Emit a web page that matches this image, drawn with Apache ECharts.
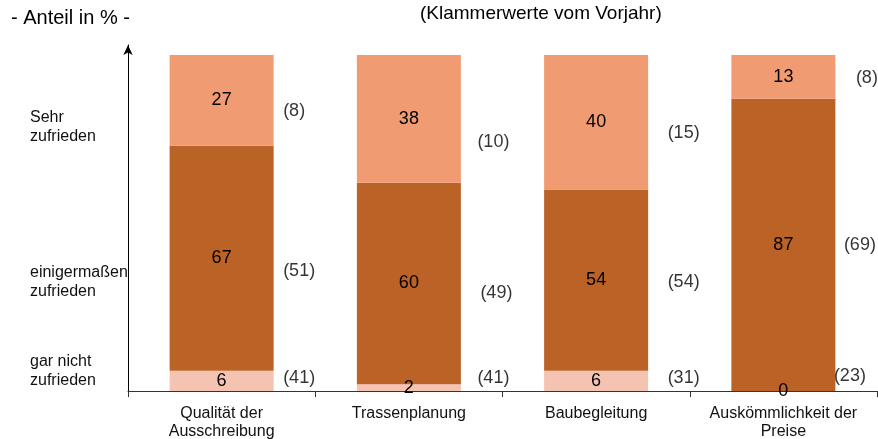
<!DOCTYPE html>
<html>
<head>
<meta charset="utf-8">
<script src="https://cdn.jsdelivr.net/npm/echarts@6/dist/echarts.min.js"></script>
<style>html,body{margin:0;padding:0;background:#fff}#c{width:878px;height:439px}</style>
</head>
<body>
<div id="c"></div>
<script>
// Data
var categories = ['Qualität der\nAusschreibung', 'Trassenplanung', 'Baubegleitung', 'Auskömmlichkeit der\nPreise'];
var garNicht = [6, 2, 6, 0];
var einigermassen = [67, 60, 54, 87];
var sehr = [27, 38, 40, 13];
var prevGarNicht = [41, 41, 31, 23];
var prevEinigermassen = [51, 49, 54, 69];
var prevSehr = [8, 10, 15, 8];
var levelLabels = ['Sehr\nzufrieden', 'einigermaßen\nzufrieden', 'gar nicht\nzufrieden'];

// Style: label nudges [gap right of bar, vertical px]
var offSehr = [[9, 11], [16, 23], [19, 11], [20, 1]];
var offEinig = [[9, 13], [19, 10], [19, 2], [8, 0]];
var offGar = [[9, -3], [16, -10], [19, -3], [-2, -15]];

var FONT = 'Liberation Sans, Arial, sans-serif';
var HALF_BAR = 52;

function mids(level) {
  return categories.map(function (c, i) {
    if (level === 0) return garNicht[i] / 2;
    if (level === 1) return garNicht[i] + einigermassen[i] / 2;
    return garNicht[i] + einigermassen[i] + sehr[i] / 2;
  });
}

function barSeries(name, data, color) {
  return {
    name: name, type: 'bar', stack: 's', data: data, barWidth: 104,
    itemStyle: { color: color },
    label: { show: true, position: 'inside', color: '#000', fontSize: 18, fontFamily: FONT, formatter: '{c}' },
    silent: true
  };
}

function prevSeries(midVals, prevVals, offs) {
  return {
    type: 'scatter', symbolSize: 1, itemStyle: { color: 'rgba(0,0,0,0)' }, silent: true,
    data: midVals.map(function (v, i) {
      return {
        value: [i, v],
        label: {
          show: true, position: 'right', distance: 0,
          offset: [HALF_BAR + offs[i][0], offs[i][1]],
          formatter: '(' + prevVals[i] + ')',
          color: '#000', fontSize: 18, fontFamily: FONT
        }
      };
    })
  };
}

var chart = echarts.init(document.getElementById('c'));
chart.setOption({
  animation: false,
  backgroundColor: '#fff',
  grid: { left: 128, right: 1, top: 45, bottom: 48, containLabel: false, outerBoundsMode: 'none' },
  xAxis: {
    type: 'category', data: categories,
    axisLine: { lineStyle: { color: '#333', width: 1 } },
    axisTick: { show: true, length: 6, interval: 0, lineStyle: { color: '#333' } },
    axisLabel: { interval: 0, color: '#111', fontSize: 16, lineHeight: 18, fontFamily: FONT, margin: 14 }
  },
  yAxis: {
    type: 'value', min: 0, max: 103,
    splitLine: { show: false },
    axisLabel: { show: false },
    axisTick: { show: false },
    axisLine: { show: true, symbol: ['none', 'arrow'], symbolSize: [7, 10], lineStyle: { color: '#000', width: 1 } }
  },
  series: [
    barSeries('gar nicht zufrieden', garNicht, '#F5C3B1'),
    barSeries('einigermaßen zufrieden', einigermassen, '#BB6226'),
    barSeries('Sehr zufrieden', sehr, '#F19B72'),
    prevSeries(mids(0), prevGarNicht, offGar),
    prevSeries(mids(1), prevEinigermassen, offEinig),
    prevSeries(mids(2), prevSehr, offSehr)
  ],
  graphic: [
    { type: 'text', left: 11, top: 8, style: { text: '- Anteil in % -', fontSize: 20, fontFamily: FONT, fill: '#000' } },
    { type: 'text', left: 420, top: 4, style: { text: '(Klammerwerte vom Vorjahr)', fontSize: 19, fontFamily: FONT, fill: '#000' } },
    { type: 'text', left: 30, top: 108, style: { text: levelLabels[0], fontSize: 16, lineHeight: 19, fontFamily: FONT, fill: '#111' } },
    { type: 'text', left: 30, top: 263, style: { text: levelLabels[1], fontSize: 16, lineHeight: 19, fontFamily: FONT, fill: '#111' } },
    { type: 'text', left: 30, top: 352, style: { text: levelLabels[2], fontSize: 16, lineHeight: 19, fontFamily: FONT, fill: '#111' } }
  ]
});
</script>
</body>
</html>
